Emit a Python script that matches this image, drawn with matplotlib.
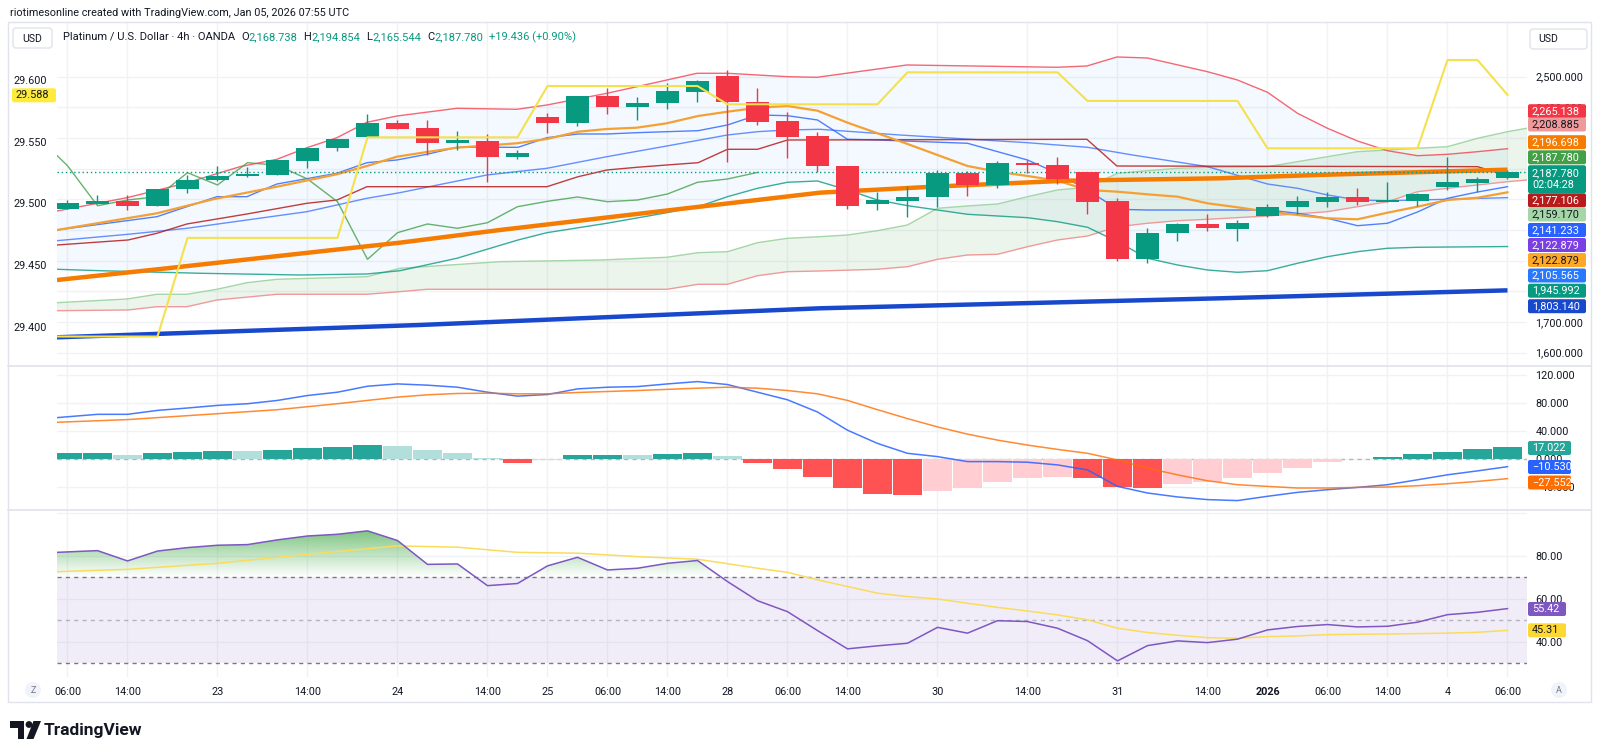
import numpy as np
import matplotlib
matplotlib.use("Agg")
import matplotlib.pyplot as plt
from matplotlib.patches import Rectangle, FancyBboxPatch, Circle, Polygon, PathPatch
from matplotlib.path import Path
from matplotlib.colors import to_rgb

plt.rcParams['font.family'] = ['Roboto', 'DejaVu Sans']
plt.rcParams['axes.unicode_minus'] = False

# ======================= DATA =======================
time_tick_idx = [0, 2, 5, 8, 11, 14, 16, 18, 20, 22, 24, 26, 29, 32, 35, 38, 40, 42, 44, 46, 48]
time_tick_labels = ["06:00", "14:00", "23", "14:00", "24", "14:00", "25", "06:00", "14:00", "28",
                    "06:00", "14:00", "30", "14:00", "31", "14:00", "2026", "06:00", "14:00", "4", "06:00"]

opens = [2068.5, 2085.8, 2093.6, 2078.3, 2132.7, 2163.1, 2176.1, 2179.4, 2226.0, 2266.5,
         2302.3, 2350.0, 2331.7, 2284.7, 2291.3, 2239.1, 2367.6, 2348.0, 2438.0, 2400.2,
         2413.2, 2450.1, 2503.3, 2418.5, 2354.6, 2306.6, 2209.7, 2083.8, 2095.6, 2106.7,
         2186.9, 2146.8, 2219.5, 2213.0, 2189.2, 2095.6, 1904.4, 1989.2, 2019.6, 2003.3,
         2045.7, 2076.0, 2091.3, 2108.6, 2092.3, 2095.6, 2141.2, 2152.3, 2168.738]
highs = [2097.8, 2114.2, 2114.2, 2133.7, 2179.4, 2208.7, 2206.5, 2228.3, 2268.4, 2296.8,
         2377.4, 2358.8, 2358.8, 2323.9, 2313.1, 2260.9, 2382.6, 2438.0, 2462.2, 2432.8,
         2478.5, 2489.2, 2521.9, 2462.2, 2385.8, 2320.6, 2209.7, 2123.0, 2143.5, 2195.7,
         2193.4, 2225.0, 2228.3, 2239.1, 2189.2, 2105.3, 2005.5, 2023.8, 2052.2, 2032.6,
         2084.8, 2110.9, 2124.9, 2136.0, 2155.6, 2121.7, 2237.1, 2171.9, 2194.854]
lows = [2067.5, 2083.8, 2065.2, 2078.3, 2119.7, 2160.8, 2173.8, 2179.4, 2201.2, 2258.6,
        2302.3, 2330.4, 2244.6, 2260.9, 2157.5, 2230.6, 2317.4, 2339.2, 2378.3, 2358.8,
        2394.7, 2418.5, 2222.8, 2342.5, 2233.9, 2190.2, 2068.5, 2065.2, 2043.4, 2074.0,
        2110.9, 2137.9, 2186.9, 2150.0, 2051.2, 1898.9, 1891.4, 1965.1, 1997.7, 1965.1,
        2041.4, 2052.2, 2076.0, 2081.5, 2092.3, 2079.2, 2130.5, 2123.0, 2165.544]
closes = [2087.1, 2093.6, 2078.3, 2133.7, 2163.1, 2177.1, 2182.6, 2228.3, 2268.4, 2296.8,
          2350.0, 2330.4, 2284.7, 2293.5, 2239.1, 2250.2, 2348.0, 2438.0, 2400.2, 2415.2,
          2453.4, 2486.0, 2418.5, 2351.3, 2304.3, 2209.7, 2079.2, 2097.8, 2108.6, 2186.9,
          2146.8, 2219.5, 2211.0, 2166.3, 2092.3, 1904.4, 1991.2, 2019.6, 2005.5, 2023.8,
          2076.0, 2093.6, 2107.6, 2092.3, 2097.8, 2117.4, 2155.6, 2166.3, 2187.780]
change_abs = 19.436
change_pct = 0.90

ema_fast_idx = [-0.35, 2.98, 4.85, 6.98, 8.98, 9.98, 10.98, 11.98, 12.98, 14.98, 15.98, 17.02, 17.98,
                18.98, 19.98, 21.02, 22, 23, 24, 25, 26, 27, 28, 29, 30, 31, 32, 33, 34, 35, 36, 37,
                38, 39, 40, 41, 42, 43, 44, 45, 46, 47, 48]
ema_fast_val = [2000.0, 2054.5, 2100.1, 2141.2, 2181.7, 2208.7, 2239.1, 2254.4, 2268.4, 2282.8,
                2296.8, 2320.6, 2329.4, 2333.7, 2348.0, 2371.8, 2385.8, 2398.9, 2404.4, 2389.1,
                2350.0, 2315.4, 2280.5, 2244.6, 2208.7, 2190.1, 2176.1, 2160.8, 2130.5, 2124.9,
                2116.4, 2108.6, 2087.1, 2074.0, 2059.7, 2048.9, 2038.2, 2034.9, 2056.4, 2076.0,
                2097.8, 2105.3, 2122.879]

ema_slow_idx = [-0.35, 3.32, 8.85, 11.08, 14.42, 17.75, 21.08, 25.08, 28.85, 33.32, 38.42, 41.65, 48]
ema_slow_val = [1836.9, 1875.1, 1934.8, 1958.6, 2000.0, 2038.2, 2076.0, 2121.7, 2141.2, 2160.8,
                2168.6, 2179.4, 2196.698]

sma_long_idx = [-0.35, 11.75, 25.08, 38.42, 48]
sma_long_val = [1650.0, 1690.2, 1744.6, 1777.2, 1803.140]

bb_upper_idx = [-0.35, 1.98, 3.92, 5.75, 6.98, 7.98, 8.98, 9.98, 10.98, 12.98, 14.98, 15.98, 17.98,
                18.98, 20.98, 22, 24, 24.98, 27.98, 32.98, 33.98, 34.98, 36, 38, 39, 40, 41, 42, 43,
                44, 45, 46, 47, 48]
bb_upper_val = [2062.0, 2105.3, 2152.3, 2206.5, 2230.6, 2268.4, 2301.0, 2351.3, 2371.8, 2396.9,
                2393.7, 2407.7, 2445.9, 2467.4, 2511.1, 2511.1, 2500.0, 2498.0, 2538.2, 2530.7,
                2534.9, 2564.3, 2561.0, 2516.3, 2489.2, 2449.1, 2380.6, 2331.7, 2290.3, 2258.6,
                2242.3, 2246.9, 2255.4, 2265.138]
bb_lower_idx = [-0.35, 1.08, 4.42, 7.75, 9.98, 11.08, 12.98, 13.98, 15.02, 15.98, 17.98, 19.98, 21.02,
                22, 23, 24, 25, 26, 27, 28, 29, 30, 31, 32, 33, 34, 35, 36, 37, 38, 39, 40, 41, 42,
                43, 44, 45, 48]
bb_lower_val = [1871.8, 1867.2, 1858.8, 1853.2, 1856.5, 1867.2, 1907.7, 1937.0, 1967.4, 1991.2,
                2021.9, 2056.4, 2076.0, 2108.6, 2136.0, 2155.6, 2159.8, 2130.5, 2097.8, 2079.3,
                2065.2, 2051.2, 2045.7, 2040.1, 2027.1, 2008.8, 1961.8, 1907.7, 1885.8, 1869.5,
                1862.0, 1867.2, 1891.4, 1912.9, 1929.2, 1940.3, 1943.6, 1945.992]
bb_basis_idx = [-0.35, 2.02, 3.98, 5.98, 7.98, 9.98, 11.08, 13.98, 15.98, 17.98, 19.98, 22, 23, 24,
                25.08, 27.75, 32, 34, 35.5, 36.08, 38, 40, 41, 42, 43, 44, 46, 48]
bb_basis_val = [1965.1, 1986.0, 2005.5, 2032.6, 2059.7, 2103.4, 2121.7, 2179.4, 2201.2, 2239.1,
                2274.0, 2309.8, 2320.6, 2326.2, 2328.4, 2309.8, 2284.7, 2269.7, 2244.6, 2235.8,
                2206.5, 2150.0, 2136.0, 2114.2, 2097.8, 2095.6, 2100.1, 2105.565]

tenkan_idx = [-0.35, 2.98, 4.98, 5.98, 6.98, 8.98, 9.98, 10.98, 11.98, 12.98, 15.02, 15.98, 17.02,
              17.98, 18.98, 21.02, 22, 23, 24, 25, 26, 27, 30, 32, 33, 34, 35, 36, 40, 41, 42, 43,
              44, 45, 46, 47, 48]
tenkan_val = [2000.0, 2043.4, 2108.6, 2108.6, 2150.0, 2184.9, 2219.5, 2228.3, 2246.9, 2269.7,
              2269.7, 2301.0, 2313.1, 2313.1, 2317.4, 2323.9, 2342.5, 2375.1, 2372.8, 2358.8,
              2295.8, 2293.5, 2282.8, 2228.3, 2184.9, 2130.5, 2067.5, 2065.2, 2065.2, 2054.5,
              2038.2, 2014.0, 2021.9, 2058.7, 2103.4, 2123.9, 2141.233]
kijun_idx = [-0.35, 2.02, 2.98, 3.98, 5.98, 7.98, 8.98, 9.98, 15.98, 17.02, 17.98, 18.98, 19.98,
             21.02, 22, 23, 24, 33.98, 34.98, 47, 48]
kijun_val = [1951.1, 1967.4, 1989.2, 2019.6, 2052.2, 2087.1, 2097.8, 2141.2, 2141.2, 2173.8,
             2195.7, 2204.5, 2212.0, 2219.5, 2263.2, 2263.2, 2293.5, 2295.8, 2208.7, 2206.5, 2177.106]
span_a_idx = [-0.35, 1.98, 2.98, 3.98, 4.98, 5.98, 6.98, 9.98, 11.08, 14.42, 17.75, 19.98, 21.02,
              22, 23, 24, 25.08, 26, 27, 28, 29, 30, 31, 32, 33, 34, 35, 36, 37, 38, 40, 41, 42,
              43, 44, 45, 46, 47, 48, 48.65]
span_a_val = [1762.9, 1774.9, 1790.3, 1790.3, 1806.6, 1828.1, 1839.2, 1847.7, 1875.1, 1896.6,
              1902.1, 1911.0, 1926.0, 1929.2, 1958.6, 1972.9, 1978.1, 1983.7, 1997.7, 2016.3,
              2070.8, 2078.3, 2084.8, 2108.6, 2130.5, 2139.3, 2184.9, 2193.4, 2201.2, 2204.5,
              2206.5, 2222.8, 2239.1, 2255.4, 2260.9, 2266.5, 2271.7, 2299.1, 2320.6, 2332.0]
span_b_idx = [-0.35, 2.02, 2.98, 3.98, 4.98, 6.98, 9.98, 11.08, 11.98, 19.98, 21.02, 22, 23, 24,
              25.08, 26.98, 28, 29, 30, 31, 32, 33, 34, 35, 36, 37, 38, 40, 42, 44, 45, 46, 47,
              48, 48.65]
span_b_val = [1736.8, 1739.1, 1749.8, 1749.8, 1771.7, 1790.3, 1790.3, 1798.8, 1806.6, 1806.6,
              1822.9, 1822.9, 1850.9, 1864.0, 1866.3, 1871.8, 1880.3, 1904.4, 1918.4, 1920.7,
              1945.5, 1967.4, 1980.4, 2010.8, 2021.9, 2030.3, 2034.9, 2045.7, 2059.7, 2092.3,
              2124.9, 2136.0, 2146.8, 2157.5, 2163.0]
lag_offset = 25  # lagging span = close shifted back

step_idx = [-0.35, 3, 4, 9, 10, 15, 16, 21, 22, 27, 28, 33, 34, 39, 40, 45, 46, 47, 48]
step_val = [29.392, 29.392, 29.472, 29.472, 29.5535, 29.5535, 29.5951, 29.5951, 29.5803, 29.5803,
            29.6062, 29.6062, 29.583, 29.583, 29.5446, 29.5446, 29.6162, 29.6162, 29.588]

macd_idx = [-0.35] + list(range(1, 49))
macd_val = [59.3, 64.0, 64.0, 69.6, 73.0, 76.7, 79.1, 83.8, 90.8, 95.5, 104.0,
            107.3, 105.5, 102.6, 95.5, 89.9, 92.2, 100.2, 102.6, 103.5, 107.3,
            110.6, 106.4, 95.5, 84.7, 67.3, 41.4, 22.6, 8.5, 3.8, -3.3,
            -3.3, -4.2, -8.0, -15.1, -38.6, -48.0, -53.6, -57.4, -58.8, -52.7,
            -47.1, -43.3, -40.0, -36.2, -29.2, -22.1, -16.5, -10.530]
signal_idx = [-0.35, 2, 3, 5, 7, 9, 11, 12, 13, 14, 15, 16, 17, 19, 21, 22, 23, 24] + list(range(25, 49))
signal_val = [52.7, 56.5, 59.3, 64.9, 70.6, 79.1, 88.5, 91.8, 93.7, 94.1, 93.2, 93.2, 95.1, 97.9,
              101.2, 102.6, 101.2, 97.9, 93.2, 83.8, 70.6, 57.9, 46.1, 35.8, 27.3, 20.2, 14.1,
              8.5, -0.9, -12.7, -22.1, -30.6, -36.2, -38.6, -40.9, -40.9, -40.0, -39.5, -37.6,
              -34.8, -31.5, -27.552]
hist_val = [8.3, 8.6, 6.6, 8.5, 10.8, 12.2, 11.8, 13.6, 16.0, 17.4,
            20.2, 18.8, 13.6, 8.5, 1.9, -4.7, -1.4, 5.6, 5.8, 5.4,
            7.1, 8.9, 4.7, -5.6, -14.1, -25.4, -40.9, -48.9, -51.3, -44.7,
            -40.9, -32.9, -27.3, -24.9, -27.3, -40.0, -40.5, -35.8, -32.0, -27.3,
            -19.3, -11.8, -3.8, 0.5, 3.3, 7.1, 10.8, 14.6, 17.022]

rsi_idx = [-0.35] + list(range(1, 49))
rsi_val = [81.6, 82.4, 77.6, 82.2, 83.8, 84.9, 85.2, 87.4, 89.2, 90.0, 91.6,
           87.1, 76.0, 76.2, 66.1, 67.1, 75.3, 79.3, 73.4, 74.2, 76.5,
           77.8, 68.0, 59.1, 54.0, 45.2, 36.7, 38.1, 39.3, 46.7, 44.0,
           49.8, 49.4, 46.3, 40.5, 31.1, 38.2, 40.4, 39.6, 41.2, 45.5,
           47.1, 48.0, 46.9, 47.2, 49.1, 52.6, 53.7, 55.42]
rsi_ma_idx = [-0.35, 2, 5, 8, 11, 13, 15, 17, 19, 21, 23] + list(range(24, 49))
rsi_ma_val = [72.6, 73.7, 76.5, 80.7, 84.6, 84.0, 81.6, 81.2, 79.6, 78.4, 74.2,
              72.3, 68.8, 65.7, 62.6, 61.0, 59.9, 57.9, 56.0, 54.3, 52.5, 50.2, 46.3, 44.3,
              43.0, 41.9, 41.6, 42.4, 42.7, 43.3, 43.5, 43.6, 43.8, 44.0, 44.4, 45.31]

price_label_values = [2265.138, 2208.885, 2196.698, 2187.780, 2187.780, 2177.106, 2159.170,
                      2141.233, 2122.879, 2122.879, 2105.565, 1945.992, 1803.140]
macd_label_values = [17.022, -10.530, -27.552]
rsi_label_values = [55.42, 45.31]
left_label_value = 29.588
countdown = "02:04:28"

# ======================= STYLE / LAYOUT =======================
W, H = 1600, 756
DARK = '#131722'
GRID = '#F0F2F5'
GREEN = '#089981'
RED = '#F23645'
FS = 7.8

fig = plt.figure(figsize=(W / 100, H / 100), dpi=100)
fig.patch.set_facecolor('white')


def add_px_axes(x0, y0, x1, y1, **kw):
    return fig.add_axes([x0 / W, 1 - y1 / H, (x1 - x0) / W, (y1 - y0) / H], **kw)


PL, PR = 57, 1527
XL, XR = -0.35, 48.65


def base_style(a):
    a.set_facecolor('none')
    for s in a.spines.values():
        s.set_visible(False)
    a.set_xlim(XL, XR)
    a.set_xticks(time_tick_idx)
    a.tick_params(length=0, labelsize=FS, labelcolor=DARK)
    a.grid(True, color=GRID, lw=1)
    a.set_axisbelow(True)


# ---------- main pane ----------
ax = add_px_axes(PL, 23, PR, 366)
base_style(ax)
ax.set_ylim(1556.4, 2675.1)

bu_i, bu_v = np.array(bb_upper_idx), np.array(bb_upper_val)
bl_i, bl_v = np.array(bb_lower_idx), np.array(bb_lower_val)
ax.fill(np.r_[bu_i, bl_i[::-1]], np.r_[bu_v, bl_v[::-1]], color='#2196F3', alpha=0.05, lw=0, zorder=1)
sa_i, sa_v = np.array(span_a_idx), np.array(span_a_val)
sb_i, sb_v = np.array(span_b_idx), np.array(span_b_val)
ax.fill(np.r_[sa_i, sb_i[::-1]], np.r_[sa_v, sb_v[::-1]], color='#43A047', alpha=0.10, lw=0, zorder=1)

ax.plot(sa_i, sa_v, color='#A5D6A7', lw=1, zorder=2)
ax.plot(sb_i, sb_v, color='#EF9A9A', lw=1, zorder=2)
ax.plot(bu_i, bu_v, color=RED, lw=1, alpha=0.75, zorder=2)
ax.plot(bl_i, bl_v, color=GREEN, lw=1, alpha=0.8, zorder=2)
ax.plot(bb_basis_idx, bb_basis_val, color='#2962FF', lw=1, alpha=0.7, zorder=2)
ax.plot(tenkan_idx, tenkan_val, color='#2962FF', lw=1, alpha=0.8, zorder=2)
ax.plot(kijun_idx, kijun_val, color='#B71C1C', lw=1, alpha=0.85, zorder=2)
ax.plot(np.arange(-1, len(closes) - lag_offset), closes[lag_offset - 1:], color='#43A047', lw=1,
        alpha=0.8, zorder=2)
ax.plot(ema_fast_idx, ema_fast_val, color='#F5A033', lw=1.6, zorder=3)
ax.plot(ema_slow_idx, ema_slow_val, color='#F57C00', lw=3.2, solid_capstyle='butt', zorder=3)
ax.plot(sma_long_idx, sma_long_val, color='#1848CC', lw=3.2, solid_capstyle='butt', zorder=3)
ax.axhline(closes[-1], color=GREEN, lw=1, ls=(0, (1, 2)), zorder=3)

o, h, l, c = map(np.array, (opens, highs, lows, closes))
xi = np.arange(len(o))
cols = np.where(c >= o, GREEN, RED)
ax.vlines(xi, l, h, colors=cols, lw=1, zorder=5)
bot = np.minimum(o, c)
hgt = np.maximum(np.abs(c - o), 3.0)
ax.bar(xi, hgt, bottom=bot, width=0.74, color=cols, lw=0, zorder=6)

# left scale (yellow step)
axl = ax.twinx()
axl.set_facecolor('none')
for s in axl.spines.values():
    s.set_visible(False)
axl.set_ylim(29.3681, 29.6462)
axl.plot(step_idx, step_val, color='#F5E04E', lw=1.5, zorder=4)
axl.set_xlim(XL, XR)
axl.yaxis.set_ticks_position('left')
lt = [29.40, 29.45, 29.50, 29.55, 29.60]
axl.set_yticks(lt)
axl.set_yticklabels([f"{v:.3f}" for v in lt])
axl.tick_params(axis='y', length=0, labelsize=FS, labelcolor=DARK, pad=7,
                left=True, labelleft=True, right=False, labelright=False)

# main price scale on the right; ticks hidden behind the label stack stay unlabelled
ax.yaxis.set_ticks_position('right')
yt = list(range(1600, 2501, 100))
covered = range(1800, 2301, 100)
ax.set_yticks(yt)
ax.set_yticklabels(["" if v in covered else f"{v:,.3f}" for v in yt])
ax.tick_params(axis='y', length=0, pad=6, labelsize=FS, labelcolor=DARK,
               left=False, labelleft=False, right=True, labelright=True)
ax.tick_params(axis='x', labelbottom=False)

# ---------- MACD pane ----------
axm = add_px_axes(PL, 366, PR, 510)
base_style(axm)
axm.set_ylim(-72.2, 132.8)
axm.yaxis.tick_right()
mt = [-40, 0, 40, 80, 120]
axm.set_yticks(mt)
axm.set_yticklabels([f"{v:.3f}".replace('-', '\u2212') for v in mt])
axm.tick_params(axis='y', pad=6)
axm.tick_params(axis='x', labelbottom=False)
hv = np.array(hist_val)
hcols = []
for k, v in enumerate(hv):
    prev = hv[k - 1] if k > 0 else -1e9
    if v >= 0:
        hcols.append('#26A69A' if v > prev else '#B2DFDB')
    else:
        hcols.append('#FFCDD2' if v > prev else '#FF5252')
axm.axhline(0, color='#787B86', lw=1, ls=(0, (3, 3)), alpha=0.5, zorder=1)
axm.bar(np.arange(len(hv)), hv, width=0.94, color=hcols, lw=0, zorder=2)
axm.plot(macd_idx, macd_val, color='#2962FF', lw=1.1, alpha=0.85, zorder=3)
axm.plot(signal_idx, signal_val, color='#FF6D00', lw=1.1, alpha=0.8, zorder=3)

# ---------- RSI pane ----------
axr = add_px_axes(PL, 510, PR, 677)
base_style(axr)
axr.set_ylim(23.6, 101.3)
axr.yaxis.tick_right()
rt = [40, 60, 80]
axr.set_yticks(rt)
axr.set_yticklabels([f"{v:.2f}" for v in rt])
axr.tick_params(axis='y', pad=6)
axr.axhline(100, color=GRID, lw=1, zorder=0)
axr.axhspan(30, 70, color='#7E57C2', alpha=0.1, lw=0, zorder=1)
axr.axhline(70, color='#787B86', lw=1, ls=(0, (3, 3)), zorder=2)
axr.axhline(50, color='#787B86', lw=1, ls=(0, (3, 3)), alpha=0.5, zorder=2)
axr.axhline(30, color='#787B86', lw=1, ls=(0, (3, 3)), zorder=2)
ri, rv = np.array(rsi_idx, float), np.array(rsi_val)
pc = axr.fill_between(ri, rv, 70, where=rv > 70, interpolate=True, facecolor='none', edgecolor='none')
paths = pc.get_paths()
if paths:
    cp = Path.make_compound_path(*paths)
    clip = PathPatch(cp, transform=axr.transData, facecolor='none', edgecolor='none')
    axr.add_patch(clip)
    grad = np.zeros((256, 1, 4))
    grad[..., :3] = to_rgb('#4CAF50')
    grad[:, 0, 3] = np.linspace(1.0, 0.0, 256)
    im = axr.imshow(grad, extent=[XL, XR, 70, 100], origin='upper', aspect='auto',
                    interpolation='bilinear', zorder=2)
    im.set_clip_path(clip)
axr.plot(rsi_ma_idx, rsi_ma_val, color='#F9DC5C', lw=1.1, zorder=3)
axr.plot(ri, rv, color='#7E57C2', lw=1.1, zorder=4)
axr.set_xlim(XL, XR)
axr.set_ylim(23.6, 101.3)
axr.set_xticklabels(time_tick_labels)
axr.tick_params(axis='x', pad=7)
for t, s in zip(axr.get_xticklabels(), time_tick_labels):
    if s == "2026":
        t.set_fontweight('bold')

# ======================= OVERLAY =======================
ov = fig.add_axes([0, 0, 1, 1], zorder=10)
ov.set_xlim(0, W)
ov.set_ylim(H, 0)
ov.axis('off')
ov.patch.set_alpha(0)

ov.add_patch(Rectangle((8, 22), 1583, 680, fill=False, edgecolor='#E0E3EB', lw=1))
ov.plot([8, 1591], [366, 366], color='#E0E3EB', lw=1.2)
ov.plot([8, 1591], [510, 510], color='#E0E3EB', lw=1.2)


def box(x0, x1, yc, h, lines, fc, tc, dy=12):
    ov.add_patch(FancyBboxPatch((x0, yc - h / 2), x1 - x0, h, boxstyle='round,pad=0,rounding_size=2',
                                facecolor=fc, edgecolor='none', zorder=5))
    n = len(lines)
    for k, s in enumerate(lines):
        ov.text(x0 + 4, yc + (k - (n - 1) / 2) * dy, s, color=tc, fontsize=FS, va='center',
                ha='left', zorder=6)


WHITE = 'white'
main_lbl_style = [('#F23645', WHITE, 111.2), ('#EF9A9A', DARK, 124.5), ('#F57C00', WHITE, 142.2),
                  ('#43A047', WHITE, 157.3), ('#089981', WHITE, 179.2), ('#B71C1C', WHITE, 200.3),
                  ('#A5D6A7', DARK, 214.5), ('#2962FF', WHITE, 230.0), ('#7B3FE4', WHITE, 245.0),
                  ('#FFA726', DARK, 260.0), ('#2979FF', WHITE, 275.5), ('#089981', WHITE, 290.7),
                  ('#1848CC', WHITE, 306.2)]
for k, (v, (fc, tc, yc)) in enumerate(zip(price_label_values, main_lbl_style)):
    if k == 4:
        box(1528, 1586, yc, 28, [f"{v:,.3f}", countdown], fc, tc)
    else:
        box(1528, 1586, yc, 14, [f"{v:,.3f}"], fc, tc)

macd_lbl_style = [('#26A69A', WHITE, 448.0), ('#2962FF', WHITE, 467.0), ('#FF6D00', WHITE, 482.5)]
for v, (fc, tc, yc) in zip(macd_label_values, macd_lbl_style):
    box(1528, 1571, yc, 14, [f"{v:.3f}".replace('-', '\u2212')], fc, tc)
rsi_lbl_style = [('#7E57C2', WHITE, 609.0), ('#FDD835', DARK, 630.3)]
for v, (fc, tc, yc) in zip(rsi_label_values, rsi_lbl_style):
    box(1528, 1566, yc, 14, [f"{v:.2f}"], fc, tc)
box(12, 56, 95.3, 14, [f"{left_label_value:.3f}"], '#FFEB3B', DARK)

ov.text(10, 13, "riotimesonline created with TradingView.com, Jan 05, 2026 07:55 UTC", fontsize=7.85,
        color=DARK, va='center', ha='left')
ov.add_patch(FancyBboxPatch((13, 28), 39, 20, boxstyle='round,pad=0,rounding_size=3',
                            facecolor='white', edgecolor='#E0E3EB', lw=1))
ov.text(32.5, 38.5, "USD", fontsize=7.6, color=DARK, va='center', ha='center')
ov.add_patch(FancyBboxPatch((1530, 29), 57, 20, boxstyle='round,pad=0,rounding_size=3',
                            facecolor='white', edgecolor='#E0E3EB', lw=1))
ov.text(1538, 39, "USD", fontsize=7.6, color=DARK, va='center', ha='left')

fig.canvas.draw()
rend = fig.canvas.get_renderer()


def seq(x, y, parts, fs=8.0):
    for s, col in parts:
        t = ov.text(x, y, s, color=col, fontsize=fs, va='center', ha='left')
        x += t.get_window_extent(renderer=rend).width
    return x


xpos = seq(63, 37, [("Platinum / U.S. Dollar \u00b7 4h \u00b7 OANDA", DARK)]) + 6
for letter, val in [("O", opens[-1]), ("H", highs[-1]), ("L", lows[-1]), ("C", closes[-1])]:
    xpos = seq(xpos, 37, [(letter, DARK), (f"{val:,.3f}", GREEN)]) + 6
seq(xpos, 37, [(f"+{change_abs:.3f} (+{change_pct:.2f}%)", GREEN)])

for xc, s in [(33, "Z"), (1559, "A")]:
    ov.add_patch(Circle((xc, 690), 8, facecolor='#F0F3FA', edgecolor='none'))
    ov.text(xc, 690.5, s, fontsize=6.5, color='#787B86', va='center', ha='center')

ov.add_patch(Polygon([(10, 721), (24, 721), (24, 739), (17.5, 739), (17.5, 727.5), (10, 727.5)],
                     closed=True, facecolor=DARK, edgecolor='none'))
ov.add_patch(Circle((29, 724.5), 3.4, facecolor=DARK, edgecolor='none'))
ov.add_patch(Polygon([(33.5, 721), (41, 721), (33.5, 739), (26.5, 739)], closed=True,
                     facecolor=DARK, edgecolor='none'))
ov.text(44, 730, "TradingView", fontsize=12.5, fontweight='bold', color=DARK, va='center', ha='left')

fig.savefig("out.png", dpi=100, facecolor='white')
